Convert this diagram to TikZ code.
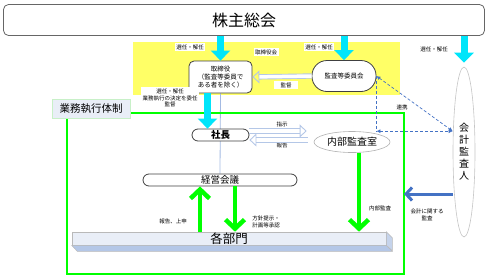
\documentclass[tikz,border=0pt]{standalone}
\usepackage{fontspec}
\setmainfont{Noto Sans CJK JP}
\usepackage{tikz}
\usetikzlibrary{arrows.meta,backgrounds,shapes.geometric}
\definecolor{boardyellow}{HTML}{FFFF66}
\definecolor{arrowcyan}{HTML}{00E5FA}
\definecolor{framegreen}{HTML}{00FF00}
\definecolor{linkblue}{HTML}{4472C4}
\definecolor{paleblue}{HTML}{B4C7E7}
\definecolor{slabfront}{HTML}{E9EEF7}
\definecolor{slabside}{HTML}{C5D3EB}
\definecolor{darkgray}{HTML}{404040}
\definecolor{labelgreen}{HTML}{C8F0C8}
\tikzset{
  cyanarrow/.style={arrowcyan,line width=7pt,-{Triangle[width=19pt,length=10pt]}},
  greenarrow/.style={framegreen,line width=4.5pt,-{Straight Barb[width=19pt,length=9pt]}},
  bluearrow/.style={linkblue,line width=3pt,-{Straight Barb[width=13pt,length=6pt]}},
  hollowarrow/.style={draw=paleblue,line width=0.9pt,double=white,double distance=3.5pt,-{Triangle[open,width=13pt,length=7pt]}},
  linkline/.style={linkblue,line width=0.7pt,dash pattern=on 3pt off 2pt},
  linkhead/.style={{Latex[length=4pt,width=4pt]}-{Latex[length=4pt,width=4pt]}},
  roundbox/.style={draw=darkgray,line width=0.8pt,fill=white,align=center,inner sep=0pt},
  note/.style={font=\fontsize{5.5}{6.5}\selectfont,align=center,inner sep=1pt},
  whitenote/.style={note,fill=white,inner sep=1.5pt}
}
\begin{document}
\begin{tikzpicture}[x=1pt,y=-1pt]
  \useasboundingbox (0,0) rectangle (489,279);
  \begin{scope}[on background layer]
    \fill[boardyellow] (133,42) rectangle (400,95);
  \end{scope}
  \coordinate (frameNW) at (67,113);
  \coordinate (frameSE) at (404,274);
  \draw[framegreen,line width=2pt] (frameNW) rectangle (frameSE);
  \node[draw=darkgray!80,line width=0.8pt,rounded corners=5pt,minimum width=481pt,minimum height=31pt,font=\fontsize{16}{16}\selectfont] (soukai) at (244,20) {株主総会};
  \node[whitenote] (boardname) at (266,52) {取締役会};
  \node[roundbox,rounded corners=5pt,minimum width=63pt,minimum height=32pt,font=\fontsize{6.5}{8}\selectfont] (torishimari) at (220.5,77) {取締役\\（監査等委員で\\ある者を除く）};
  \node[roundbox,rounded corners=15pt,minimum width=64pt,minimum height=31pt,font=\fontsize{6.5}{8}\selectfont] (kansa) at (344,76) {監査等委員会};
  \node[draw=labelgreen,line width=1pt,fill=slabfront,minimum width=78pt,minimum height=19pt,inner sep=0pt,font=\fontsize{10.5}{11}\selectfont] (gyoumu) at (91,108.5) {業務執行体制};
  \node[roundbox,rounded corners=6pt,minimum width=57pt,minimum height=12pt,font=\fontsize{9.5}{10}\selectfont\bfseries] (shachou) at (220.5,135) {社長};
  \node[ellipse,draw=gray!60,line width=0.6pt,fill=white,minimum width=76pt,minimum height=21pt,inner sep=0pt,font=\fontsize{10}{10}\selectfont] (naibu) at (352,142) {内部監査室};
  \node[roundbox,rounded corners=6pt,minimum width=154pt,minimum height=12pt,font=\fontsize{9.5}{10}\selectfont] (keiei) at (220,180) {経営会議};
  \node[draw=gray!55,line width=0.6pt,fill=slabfront,minimum width=314pt,minimum height=13pt,inner sep=0pt,font=\fontsize{12.5}{13}\selectfont] (kakubu) at (229,238.5) {各部門};
  \filldraw[fill=paleblue,draw=gray!55,line width=0.5pt] (kakubu.south west) -- (kakubu.south east) -- ++(6,6) -- ++(-315,0) -- cycle;
  \filldraw[fill=slabside,draw=gray!55,line width=0.5pt] (kakubu.north east) -- ++(6,6) -- ++(0,13) -- (kakubu.south east) -- cycle;
  \node[ellipse,draw=gray!45,line width=0.6pt,fill=white,minimum width=22pt,minimum height=170pt,inner sep=0pt,align=center,font=\fontsize{10}{12}\selectfont] (kaikei) at (464,152) {会\\計\\監\\査\\人};
  \node[whitenote] (senninA) at (190,47) {選任・解任};
  \node[whitenote] (senninB) at (319,47) {選任・解任};
  \node[note] (senninC) at (434,49) {選任・解任};
  \node[whitenote,minimum width=24pt] (kantoku) at (286,85) {監督};
  \node[whitenote] (inin) at (170,98) {選任・解任\\業務執行の決定を委任\\監督};
  \node[note] (shiji) at (282,124) {指示};
  \node[note] (houkoku) at (282,145) {報告};
  \node[note] (renkei) at (402,107) {連携};
  \node[note] (naibukansa) at (380,208) {内部監査};
  \node[note] (kaikeikansa) at (427,215) {会計に関する\\監査};
  \node[note] (joushin) at (173,221) {報告、上申};
  \node[note] (houshin) at (266,222) {方針提示・\\計画等承認};
  \draw[cyanarrow] (soukai.south -| torishimari.north) -- (torishimari.north);
  \draw[cyanarrow] (soukai.south -| kansa.north) -- (kansa.north);
  \draw[cyanarrow,shorten >=4pt] (soukai.south -| kaikei.north) -- (kaikei.north);
  \path ([xshift=-13pt]torishimari.south) coordinate (execTop);
  \draw[cyanarrow] (execTop) -- (execTop |- shachou.north);
  \begin{scope}[on background layer]
    \draw[paleblue!85!linkblue,line width=0.8pt] (torishimari.south) -- (keiei.north);
  \end{scope}
  \draw[hollowarrow] (kansa.west) -- (torishimari.east);
  \path ([yshift=4pt]shachou.east) coordinate (orderFrom);
  \draw[hollowarrow,shorten >=7pt] (orderFrom) -- (orderFrom -| naibu.west);
  \path ([yshift=-5pt]shachou.east) coordinate (reportTo);
  \draw[hollowarrow,shorten <=6pt] (reportTo -| naibu.west) -- (reportTo);
  \path (kansa.east |- naibu.north) coordinate (linkCorner);
  \path (linkCorner -| kaikei.west) coordinate (linkEnd);
  \draw[linkline] (kansa.east) -- (linkCorner);
  \draw[linkline,linkhead] (linkCorner) -- (linkEnd);
  \draw[linkline,linkhead] (kansa.east) -- (linkEnd);
  \path ([xshift=-20pt]keiei.south) coordinate (upTop);
  \draw[greenarrow] (upTop |- kakubu.north) -- (upTop);
  \path ([xshift=15pt]keiei.south) coordinate (downTop);
  \draw[greenarrow] (downTop) -- (downTop |- kakubu.north);
  \path ([xshift=7pt]naibu.south) coordinate (auditTop);
  \draw[greenarrow] (auditTop) -- (auditTop |- kakubu.north);
  \path ([yshift=-42pt]kaikei.west) coordinate (auditFrom);
  \draw[bluearrow] (auditFrom) -- (auditFrom -| frameSE);
\end{tikzpicture}
\end{document}
